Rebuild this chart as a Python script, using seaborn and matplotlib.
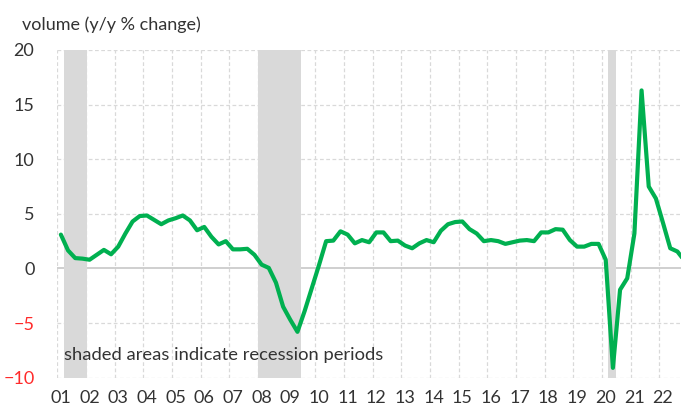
import numpy as np
import pandas as pd
import matplotlib
matplotlib.use('Agg')
import matplotlib.pyplot as plt
import seaborn as sns

# quarterly values, 2001Q1 .. 2022Q4 (y/y % change)
years = list(range(2001, 2023))
volume = [
    3.1, 1.65, 0.95, 0.9,      # 01
    0.8, 1.25, 1.7, 1.3,       # 02
    2.0, 3.2, 4.3, 4.8,        # 03
    4.85, 4.45, 4.05, 4.4,     # 04
    4.6, 4.85, 4.4, 3.5,       # 05
    3.8, 2.9, 2.2, 2.5,        # 06
    1.75, 1.75, 1.8, 1.25,     # 07
    0.35, 0.05, -1.3, -3.5,    # 08
    -4.7, -5.8, -3.9, -1.8,    # 09
    0.3, 2.5, 2.55, 3.4,       # 10
    3.1, 2.3, 2.6, 2.4,        # 11
    3.3, 3.3, 2.5, 2.55,       # 12
    2.1, 1.85, 2.3, 2.6,       # 13
    2.4, 3.45, 4.05, 4.25,     # 14
    4.3, 3.6, 3.2, 2.5,        # 15
    2.6, 2.5, 2.25, 2.4,       # 16
    2.55, 2.6, 2.5, 3.3,       # 17
    3.3, 3.6, 3.55, 2.6,       # 18
    2.0, 2.0, 2.25, 2.25,      # 19
    0.8, -9.1, -1.95, -0.9,    # 20
    3.2, 16.3, 7.5, 6.4,       # 21
    4.15, 1.85, 1.55, 0.7,     # 22
]
year_labels = [f"{y % 100:02d}" for y in years]

# recession shading, in quarter index units (2001Q1 = 0)
rec_start = [0.45, 27.5, 76.35]
rec_end = [3.6, 33.5, 77.5]

df = pd.DataFrame({'q': np.arange(len(volume)), 'volume': volume})

sns.set_theme(style="white")
plt.rcParams['font.family'] = ['Lato', 'DejaVu Sans']

fig = plt.figure(figsize=(6.81, 4.05), dpi=100)
ax = fig.add_axes([57.3 / 681, 1 - 377.7 / 405, 1 - 57.3 / 681, (377.7 - 50) / 405])

# grid
for yv in [-10, -5, 5, 10, 15, 20]:
    ax.axhline(yv, color='#d9d9d9', lw=0.9, ls=(0, (3, 2)), zorder=0)
ax.axhline(0, color='#cfcfcf', lw=1.4, zorder=0.5)
for i in range(len(years)):
    ax.axvline(4 * i - 0.5, color='#d9d9d9', lw=0.9, ls=(0, (3, 2)), zorder=0)

for s, e in zip(rec_start, rec_end):
    ax.axvspan(s, e, color='#d9d9d9', lw=0, zorder=1)

sns.lineplot(data=df, x='q', y='volume', color='#00B050', lw=3.0, ax=ax, zorder=3)

ax.set_xlim(-0.5, 86.5)
ax.set_ylim(-10, 20)
ax.set_xticks(np.arange(0, 4 * len(years), 4))
ax.set_xticklabels(year_labels)
ax.set_yticks([-10, -5, 0, 5, 10, 15, 20])
ax.set_xlabel('')
ax.set_ylabel('')
ax.tick_params(axis='both', length=0, labelsize=13, colors='#333333')
ax.tick_params(axis='y', pad=16.5)
ax.tick_params(axis='x', pad=8.5)
for lab, v in zip(ax.get_yticklabels(), [-10, -5, 0, 5, 10, 15, 20]):
    if v < 0:
        lab.set_color('#ff2a2a')
for sp in ax.spines.values():
    sp.set_visible(False)
ax.grid(False)

ax.text(0.45, -7.95, 'shaded areas indicate recession periods', fontsize=13.2,
        color='#333333', va='center', ha='left', zorder=4)
fig.text(22 / 681, 1 - 25 / 405, 'volume (y/y % change)', fontsize=13,
         color='#333333', va='center', ha='left')

fig.savefig('out.png', dpi=100)
